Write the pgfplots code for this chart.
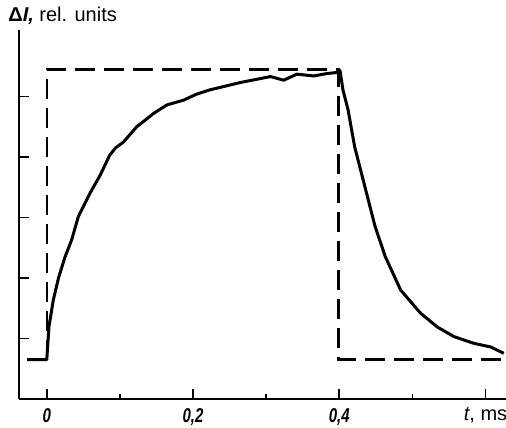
\documentclass[border=0pt]{standalone}
\usepackage{pgfplots}
\pgfplotsset{compat=1.18}
\usepackage{fontspec}
\setmainfont{Liberation Sans}
\newfontfamily\tickfont[FakeStretch=0.75]{Liberation Sans}
\begin{document}
\begin{tikzpicture}
\begin{axis}[
    scale only axis,
    width=243.5pt, height=184.5pt,
    xmin=-0.038, xmax=0.628,
    ymin=0, ymax=6.1,
    axis lines=left,
    axis line style={-, line width=0.9pt},
    tick align=inside,
    tick style={black, line width=0.9pt},
    major tick length=5pt,
    minor tick length=2.5pt,
    xtick={0,0.2,0.4,0.6},
    minor xtick={0.1,0.3,0.5},
    xticklabels={{\tickfont\bfseries\itshape 0},{\tickfont\bfseries\itshape 0,2},{\tickfont\bfseries\itshape 0,4},{\textit{t}, ms}},
    ytick={1,2,3,4,5},
    yticklabels={},
    xticklabel style={yshift=-1pt},
    clip=false
]
% rectangular excitation pulse
\addplot[black, line width=1.2pt, dash pattern=on 10pt off 4.5pt] coordinates {
    (0,0.65) (0,5.45) (0.399,5.45) (0.399,0.65) (0.628,0.65)
};
% measured response
\addplot[black, line width=1.5pt, line join=round] coordinates {
    (-0.027,0.65) (0.000,0.65) (0.003,1.20) (0.009,1.64) (0.016,2.00)
    (0.025,2.35) (0.034,2.63) (0.043,3.01) (0.059,3.40) (0.073,3.70)
    (0.086,4.03) (0.094,4.15) (0.105,4.25) (0.123,4.50) (0.146,4.72)
    (0.164,4.86) (0.187,4.94) (0.205,5.04) (0.223,5.11) (0.264,5.23)
    (0.306,5.33) (0.324,5.27) (0.342,5.37) (0.365,5.34) (0.383,5.38)
    (0.399,5.40) (0.401,5.43) (0.405,5.11) (0.412,4.78) (0.421,4.17)
    (0.435,3.51) (0.449,2.85) (0.463,2.35) (0.484,1.80) (0.511,1.42)
    (0.534,1.19) (0.557,1.03) (0.584,0.92) (0.607,0.86) (0.625,0.755)
};
\end{axis}
\node[anchor=base west, inner sep=0pt] at ([xshift=-5.5pt, yshift=4pt]current axis.north west)
    {{\bfseries\char"0394\itshape I,} rel. units};
\pgfresetboundingbox
\path ([xshift=-9.5pt, yshift=-14.5pt]current axis.south west) rectangle ([yshift=15pt]current axis.north east);
\end{tikzpicture}
\end{document}
